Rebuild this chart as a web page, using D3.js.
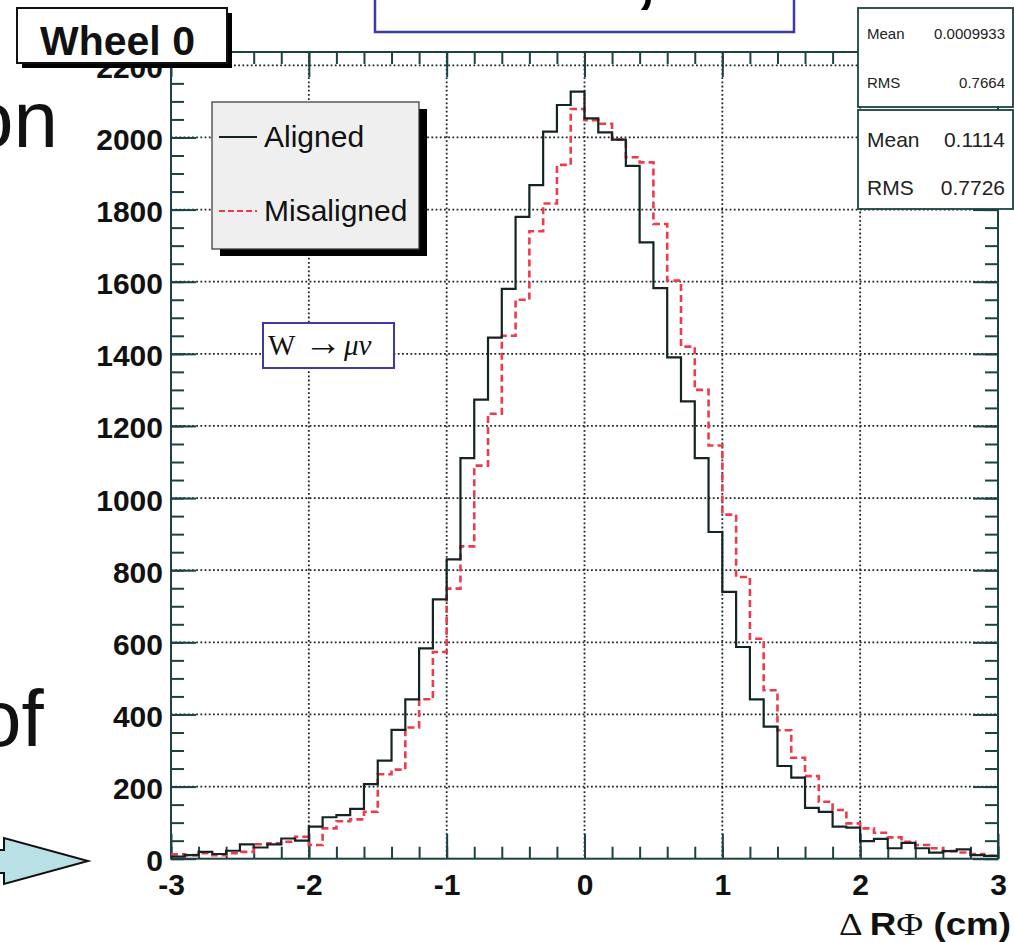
<!DOCTYPE html>
<html>
<head>
<meta charset="utf-8">
<script src="https://cdn.jsdelivr.net/npm/d3@7"></script>
<style>
  html, body { margin: 0; padding: 0; background: #ffffff; }
  svg { display: block; }
</style>
</head>
<body>
<svg id="chart" width="1014" height="942"></svg>
<script>
// ---- Histogram definition: 60 bins of 0.1 cm from -3 to 3 ----
const xRange = [-3, 3];
const nBins = 60;

// Bin contents, Delta R-Phi residuals, Wheel 0
const aligned = [
  6, 10, 19, 13, 22, 40, 31, 40, 56, 50,
  89, 115, 121, 138, 207, 272, 357, 442, 583, 719,
  830, 1111, 1273, 1445, 1580, 1780, 1868, 2016, 2090, 2127,
  2053, 2014, 1994, 1921, 1709, 1582, 1390, 1268, 1111, 906,
  740, 587, 442, 366, 257, 225, 141, 130, 89, 86,
  49, 55, 29, 44, 29, 17, 21, 26, 10, 8
];
const misaligned = [
  12, 10, 15, 10, 15, 19, 40, 43, 47, 61,
  38, 84, 104, 109, 130, 234, 247, 364, 442, 573,
  749, 866, 1090, 1234, 1450, 1550, 1740, 1817, 1924, 2079,
  2048, 2038, 1994, 1945, 1931, 1760, 1603, 1420, 1300, 1146,
  954, 781, 610, 467, 356, 280, 229, 158, 135, 98,
  84, 72, 59, 47, 38, 29, 21, 17, 13, 8
];

const seriesNames = ["Aligned", "Misaligned"];
const xTickLabels = [-3, -2, -1, 0, 1, 2, 3];
const yTickLabels = [0, 200, 400, 600, 800, 1000, 1200, 1400, 1600, 1800, 2000, 2200];
const statNames = ["Mean", "RMS"];
const statsMisaligned = ["0.0009933", "0.7664"];
const statsAligned = ["0.1114", "0.7726"];

// ---- Layout ----
const frame = { left: 171, right: 998, top: 52, bottom: 858.7 };
const yMax = 2237;
const axisColor = "#1d4242";
const gridColor = "#1c2626";
const alignedColor = "#142424";
const misalignedColor = "#ee3b4b";
const sans = "'Liberation Sans', Arial, Helvetica, sans-serif";
const serif = "'Liberation Serif', 'Times New Roman', serif";

const svg = d3.select("#chart");

const x = d3.scaleLinear().domain(xRange).range([frame.left, frame.right]);
const y = d3.scaleLinear().domain([0, yMax]).range([frame.bottom, frame.top]);

const binWidth = (xRange[1] - xRange[0]) / nBins;
const edges = d3.range(nBins + 1).map(i => xRange[0] + i * binWidth);
const xMinor = d3.range(0, 31).map(i => xRange[0] + i * 0.2);
const yMinor = d3.range(0, 45).map(i => i * 50);
const plainNumber = d => String(d);   // hyphen-minus, as ROOT prints it

// ---- Slide text and shapes around the plot ----
svg.append("text").attr("x", -31).attr("y", 147)
  .attr("font-family", sans).attr("font-size", 80).attr("fill", "#111")
  .text("on");
svg.append("text").attr("x", -23).attr("y", 746)
  .attr("font-family", sans).attr("font-size", 80).attr("fill", "#111")
  .text("of");

svg.append("polygon")
  .attr("points", [[-3, 850], [4, 850], [4, 838], [88, 861], [4, 884], [4, 873], [-3, 873]].join(" "))
  .attr("fill", "#b9e0e5").attr("stroke", "#111").attr("stroke-width", 2)
  .attr("stroke-linejoin", "miter");

svg.append("rect").attr("x", 375).attr("y", -5).attr("width", 419).attr("height", 37)
  .attr("fill", "#fff").attr("stroke", "#3b3ba8").attr("stroke-width", 2.5);
svg.append("text").attr("x", 636).attr("y", -1)
  .attr("font-family", sans).attr("font-size", 72).attr("font-weight", "bold").attr("fill", "#000")
  .text(",");

// ---- Grid ----
const grid = svg.append("g")
  .attr("stroke", gridColor).attr("stroke-width", 1.8).attr("stroke-dasharray", "1.8 2.4");
grid.selectAll("line.gx").data(xTickLabels.filter(v => v > xRange[0] && v < xRange[1]))
  .join("line").attr("class", "gx")
  .attr("x1", d => x(d)).attr("x2", d => x(d))
  .attr("y1", frame.top).attr("y2", frame.bottom);
grid.selectAll("line.gy").data(yTickLabels.filter(v => v > 0))
  .join("line").attr("class", "gy")
  .attr("x1", frame.left).attr("x2", frame.right)
  .attr("y1", d => y(d)).attr("y2", d => y(d));

// ---- Axes: ticks on all four sides, pointing inwards ----
function styleAxis(g) {
  g.attr("color", axisColor);
  g.selectAll(".tick line").attr("stroke-width", 2);
  g.select(".domain").remove();
}
const majorX = xTickLabels, majorY = yTickLabels;

svg.append("g").attr("transform", `translate(0,${frame.bottom})`)
  .call(d3.axisBottom(x).tickValues(xMinor).tickSize(-12).tickFormat(""))
  .call(styleAxis);
const xAxis = svg.append("g").attr("transform", `translate(0,${frame.bottom})`)
  .call(d3.axisBottom(x).tickValues(majorX).tickSize(-25).tickPadding(15).tickFormat(plainNumber))
  .call(styleAxis);
xAxis.selectAll("text").attr("fill", "#111").attr("font-family", sans)
  .attr("font-size", 30).attr("font-weight", "bold");

svg.append("g").attr("transform", `translate(0,${frame.top})`)
  .call(d3.axisTop(x).tickValues(xMinor).tickSize(-12).tickFormat(""))
  .call(styleAxis);
svg.append("g").attr("transform", `translate(0,${frame.top})`)
  .call(d3.axisTop(x).tickValues(majorX).tickSize(-25).tickFormat(""))
  .call(styleAxis);

svg.append("g").attr("transform", `translate(${frame.left},0)`)
  .call(d3.axisLeft(y).tickValues(yMinor).tickSize(-13).tickFormat(""))
  .call(styleAxis);
const yAxis = svg.append("g").attr("transform", `translate(${frame.left},0)`)
  .call(d3.axisLeft(y).tickValues(majorY).tickSize(-25).tickPadding(8).tickFormat(plainNumber))
  .call(styleAxis);
yAxis.selectAll("text").attr("fill", "#111").attr("font-family", sans)
  .attr("font-size", 30).attr("font-weight", "bold").attr("dy", "0.4em");

svg.append("g").attr("transform", `translate(${frame.right},0)`)
  .call(d3.axisRight(y).tickValues(yMinor).tickSize(-13).tickFormat(""))
  .call(styleAxis);
svg.append("g").attr("transform", `translate(${frame.right},0)`)
  .call(d3.axisRight(y).tickValues(majorY).tickSize(-25).tickFormat(""))
  .call(styleAxis);

// Frame
svg.append("rect")
  .attr("x", frame.left).attr("y", frame.top)
  .attr("width", frame.right - frame.left).attr("height", frame.bottom - frame.top)
  .attr("fill", "none").attr("stroke", axisColor).attr("stroke-width", 2);

// ---- Histogram outlines ----
function stepPoints(values) {
  const pts = [];
  values.forEach((v, i) => { pts.push([edges[i], v]); pts.push([edges[i + 1], v]); });
  return pts;
}
const histLine = d3.line().x(d => x(d[0])).y(d => y(d[1]));

svg.append("path").datum(stepPoints(misaligned))
  .attr("d", histLine).attr("fill", "none")
  .attr("stroke", misalignedColor).attr("stroke-width", 2.6)
  .attr("stroke-dasharray", "7 4");
svg.append("path").datum(stepPoints(aligned))
  .attr("d", histLine).attr("fill", "none")
  .attr("stroke", alignedColor).attr("stroke-width", 2.2);

// ---- Axis title ----
const xTitle = svg.append("text").attr("x", 1011).attr("y", 935)
  .attr("text-anchor", "end").attr("fill", "#111")
  .attr("font-size", 32).attr("textLength", 172).attr("lengthAdjust", "spacingAndGlyphs");
xTitle.append("tspan").attr("font-family", serif).text("\u0394 ");
xTitle.append("tspan").attr("font-family", sans).attr("font-weight", "bold").text("R");
xTitle.append("tspan").attr("font-family", serif).text("\u03A6");
xTitle.append("tspan").attr("font-family", sans).attr("font-weight", "bold").text(" (cm)");

// ---- Legend ----
const legend = svg.append("g");
legend.append("rect").attr("x", 220).attr("y", 109).attr("width", 207).attr("height", 147).attr("fill", "#000");
legend.append("rect").attr("x", 212).attr("y", 102).attr("width", 207).attr("height", 147)
  .attr("fill", "#efefef").attr("stroke", "#333").attr("stroke-width", 1.2);
const legendRows = [
  { name: seriesNames[0], color: alignedColor, dash: null, width: 2, y: 137 },
  { name: seriesNames[1], color: misalignedColor, dash: "6 3", width: 2, y: 211 }
];
legendRows.forEach(r => {
  legend.append("line").attr("x1", 219).attr("x2", 257).attr("y1", r.y).attr("y2", r.y)
    .attr("stroke", r.color).attr("stroke-width", r.width).attr("stroke-dasharray", r.dash);
  legend.append("text").attr("x", 264).attr("y", r.y + 10)
    .attr("font-family", sans).attr("font-size", 30).attr("fill", "#111").text(r.name);
});

// ---- Statistics boxes ----
function statsBox(top, values, fontSize, rowY) {
  const g = svg.append("g");
  g.append("rect").attr("x", 858).attr("y", top).attr("width", 155).attr("height", 99)
    .attr("fill", "#fff").attr("stroke", axisColor).attr("stroke-width", 1.8);
  statNames.forEach((n, i) => {
    g.append("text").attr("x", 867).attr("y", rowY[i])
      .attr("font-family", sans).attr("font-size", fontSize).attr("fill", "#222").text(n);
    g.append("text").attr("x", 1005).attr("y", rowY[i]).attr("text-anchor", "end")
      .attr("font-family", sans).attr("font-size", fontSize).attr("fill", "#222").text(values[i]);
  });
}
statsBox(8, statsMisaligned, 15, [39, 88]);
statsBox(110, statsAligned, 21, [147, 195]);

// ---- Title box ----
svg.append("rect").attr("x", 22).attr("y", 13).attr("width", 210).attr("height", 55).attr("fill", "#000");
svg.append("rect").attr("x", 17).attr("y", 8).attr("width", 210).attr("height", 55)
  .attr("fill", "#fff").attr("stroke", "#111").attr("stroke-width", 2);
svg.append("text").attr("x", 40).attr("y", 55)
  .attr("font-family", sans).attr("font-size", 41).attr("font-weight", "bold").attr("fill", "#111")
  .text("Wheel 0");

// ---- Process label ----
svg.append("rect").attr("x", 263).attr("y", 323).attr("width", 131).attr("height", 45)
  .attr("fill", "#fff").attr("stroke", "#3b3ba8").attr("stroke-width", 2);
const proc = svg.append("text").attr("y", 355).attr("font-family", serif).attr("font-size", 29).attr("fill", "#111");
proc.append("tspan").attr("x", 268).text("W");
proc.append("tspan").attr("x", 304).attr("font-size", 38).text("\u2192");
proc.append("tspan").attr("x", 344).attr("font-style", "italic").text("\u03BC\u03BD");
</script>
</body>
</html>
